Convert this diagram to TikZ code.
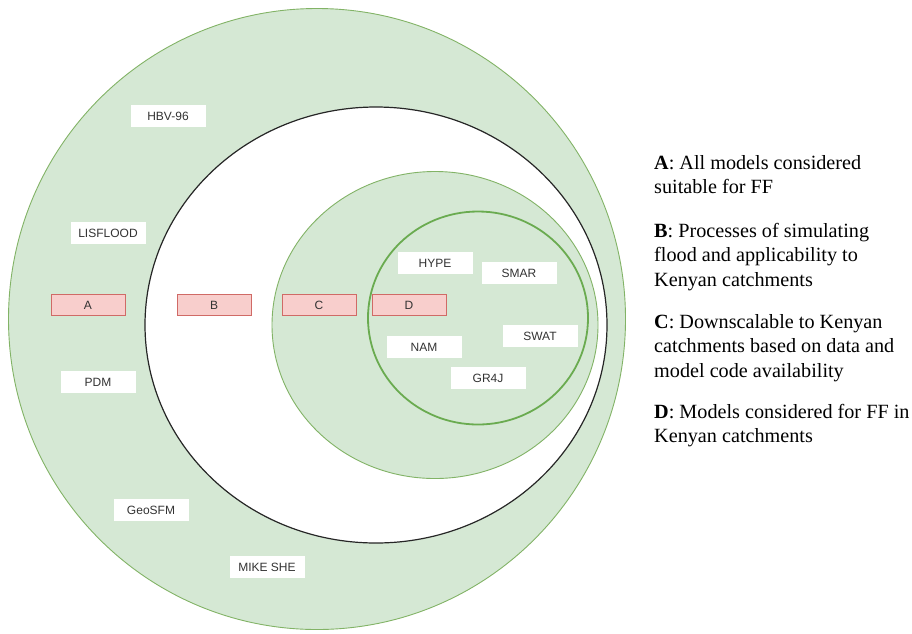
\documentclass[tikz,border=0pt]{standalone}
\usepackage{fontspec}
\setmainfont{Liberation Serif}
\setsansfont{Liberation Sans}
\usetikzlibrary{shapes.geometric}
\definecolor{gfill}{HTML}{D5E8D4}
\definecolor{gline}{HTML}{82B366}
\definecolor{gdark}{HTML}{6AAB50}
\definecolor{rfill}{HTML}{F8CECC}
\definecolor{rline}{HTML}{D06A66}
\newcommand{\firstline}{\rule{0pt}{15pt}}
\begin{document}
\begin{tikzpicture}[x=1pt,y=-1pt,
  zone/.style={ellipse, inner sep=0pt, outer sep=0pt, fill=gfill, draw=gline, line width=0.9pt},
  tag/.style={fill=white, minimum width=75pt, minimum height=22pt, inner sep=0pt,
    font=\sffamily\fontsize{12}{14}\selectfont, text=black!80},
  letter/.style={fill=rfill, draw=rline, line width=0.9pt, minimum width=74pt, minimum height=21pt,
    inner sep=0pt, font=\sffamily\fontsize{12}{14}\selectfont, text=black!80},
  legend/.style={anchor=north west, align=left, inner sep=0pt, font=\fontsize{20.2}{24.5}\selectfont}]
\useasboundingbox (0,0) rectangle (912,633);
% circles
\node[zone, minimum width=617pt, minimum height=621pt] (outer) at (317,319) {};
\node[ellipse, inner sep=0pt, fill=white, draw=black!85, line width=1.2pt,
      minimum width=462pt, minimum height=436pt] (ring) at (376,325) {};
\node[zone, minimum width=326pt, minimum height=307pt] (czone) at (435,325) {};
\node[zone, draw=gdark, line width=1.8pt, minimum width=220pt, minimum height=213pt] (dzone) at (478,318) {};
% letter boxes
\node[letter] (A) at (88,305) {A};
\node[letter] (B) at (214,305) {B};
\node[letter] (C) at (319,305) {C};
\node[letter] (D) at (409,305) {D};
% model tags
\node[tag] (hbv) at (168,116) {HBV-96};
\node[tag] (lis) at (108,233) {LISFLOOD};
\node[tag] (pdm) at (98,382) {PDM};
\node[tag] (geo) at (151,510) {GeoSFM};
\node[tag] (mike) at (267,567) {MIKE SHE};
\node[tag] (hype) at (435,263) {HYPE};
\node[tag] (smar) at (519,273) {SMAR};
\node[tag] (nam) at (424,347) {NAM};
\node[tag] (swat) at (540,336) {SWAT};
\node[tag] (gr4j) at (488,378) {GR4J};
% legend
\node[legend] (legA) at (654,154) {\firstline\textbf{A}: All models considered\\suitable for FF};
\node[legend] (legB) at (654,222) {\firstline\textbf{B}: Processes of simulating\\flood and applicability to\\Kenyan catchments};
\node[legend] (legC) at (654,313) {\firstline\textbf{C}: Downscalable to Kenyan\\catchments based on data and\\model code availability};
\node[legend] (legD) at (654,403) {\firstline\textbf{D}: Models considered for FF in\\Kenyan catchments};
\end{tikzpicture}
\end{document}
